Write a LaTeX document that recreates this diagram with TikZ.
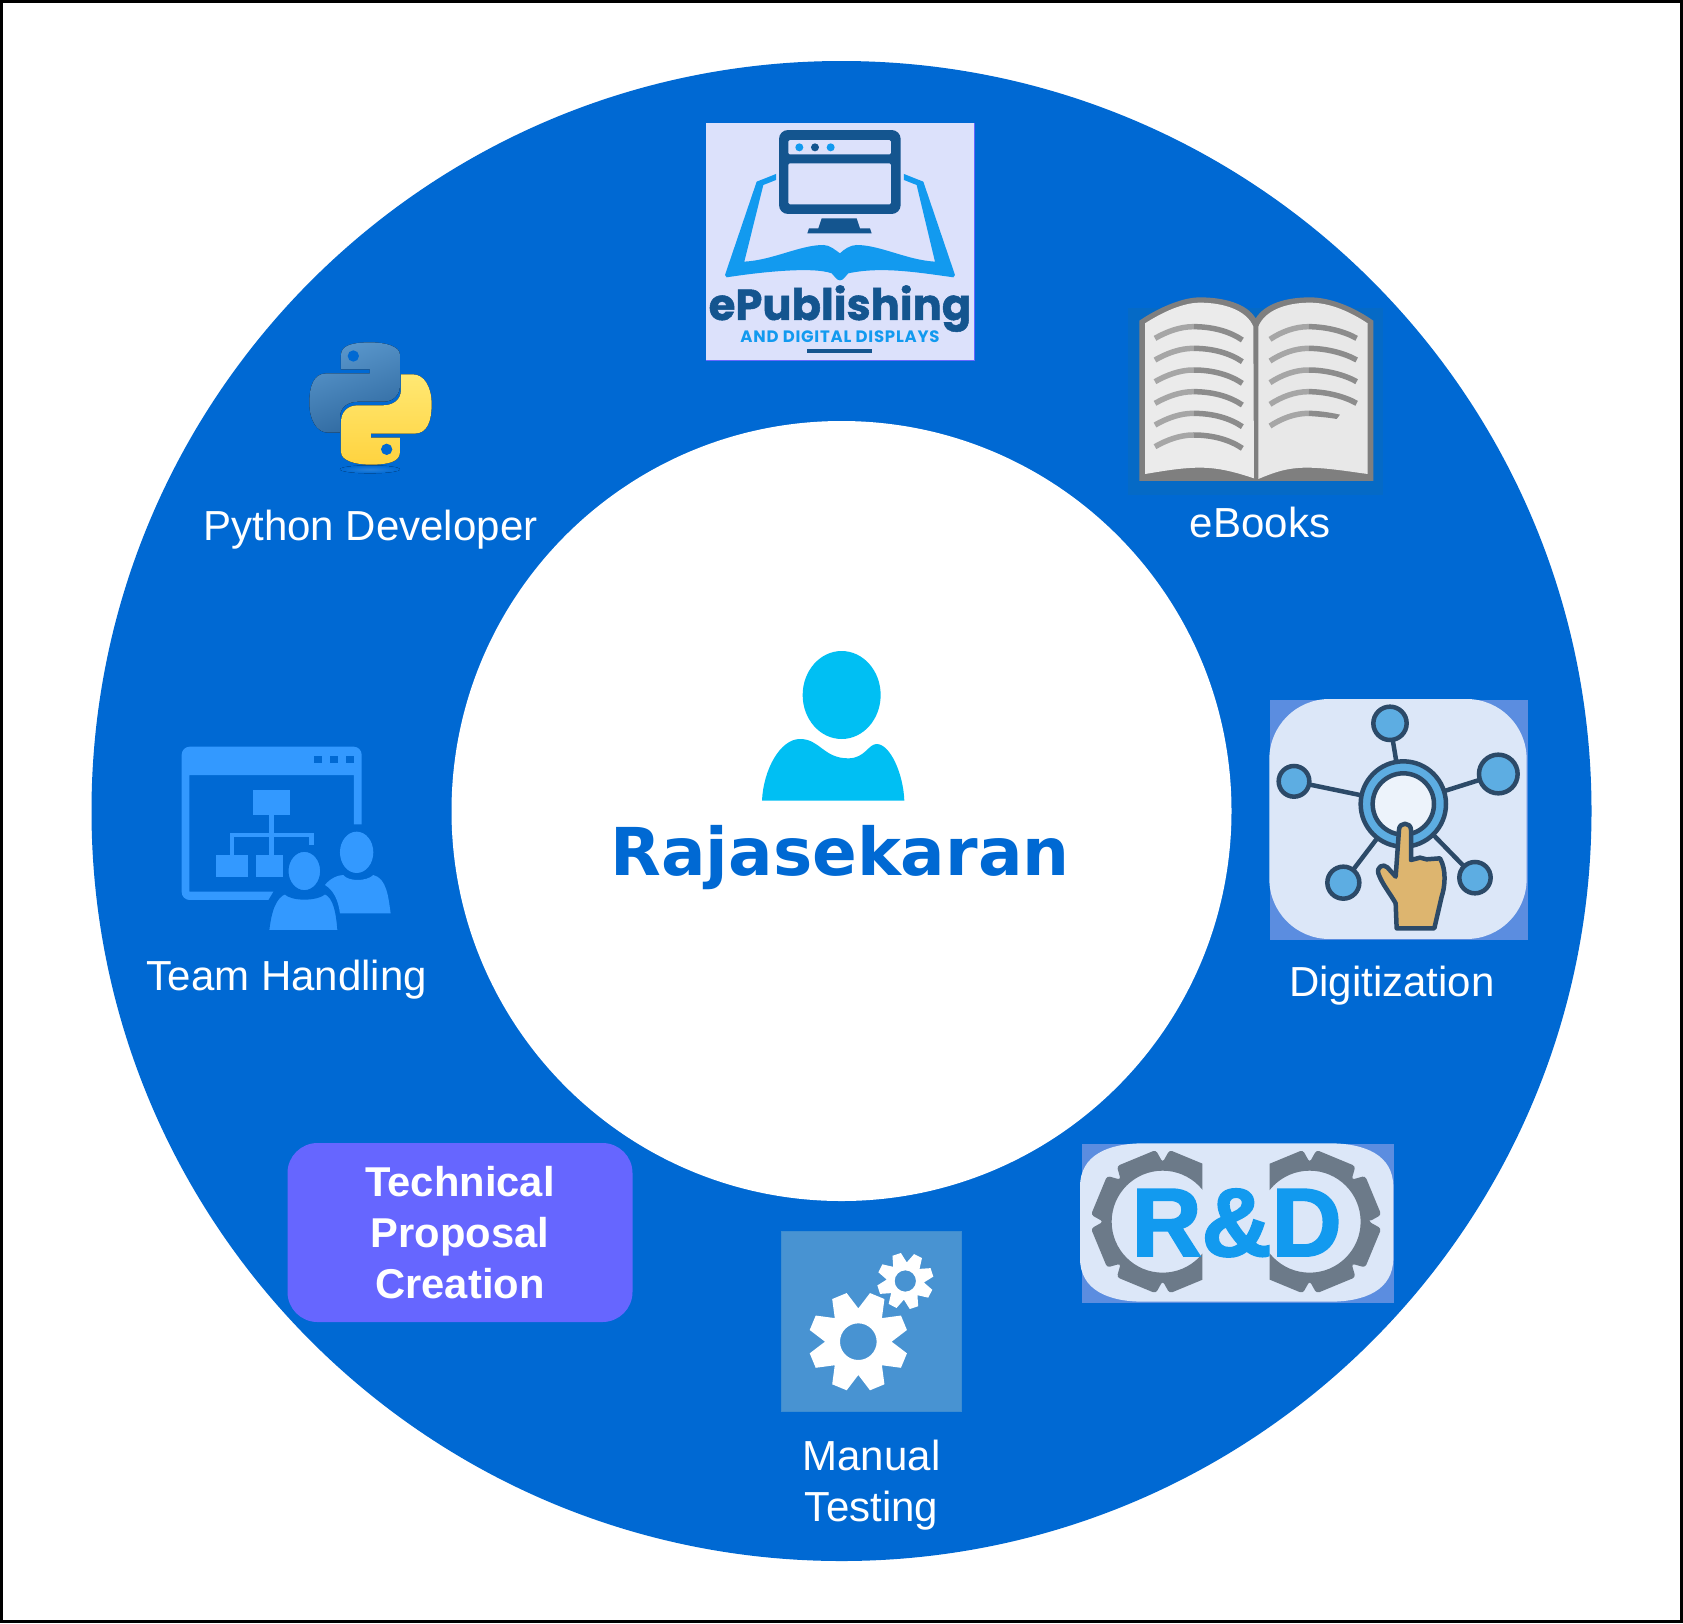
\documentclass[tikz,border=0pt]{standalone}
\usepackage{fontspec}
\setmainfont{Liberation Sans}
\newfontfamily\titlefont{DejaVu Sans}
\newfontfamily\logofont[BoldFeatures={FakeBold=1.2}]{Poppins}
\newfontfamily\logosubfont[LetterSpace=4.6]{Poppins}
\newfontfamily\markfont[BoldFeatures={FakeBold=2}]{Liberation Sans}
\definecolor{ringblue}{HTML}{0069D3}
\definecolor{haloblue}{HTML}{056AC6}
\definecolor{personblue}{HTML}{00BFF3}
\definecolor{proposalviolet}{HTML}{6666FF}
\definecolor{palebox}{HTML}{DCE1FB}
\definecolor{monitorblue}{HTML}{14558F}
\definecolor{skyblue}{HTML}{129AEF}
\definecolor{bookgrey}{HTML}{7F7F7F}
\definecolor{teamblue}{HTML}{3399FF}
\definecolor{tileblue}{HTML}{5B8DE0}
\definecolor{paletile}{HTML}{DCE7F8}
\definecolor{linkdark}{HTML}{2C4A68}
\definecolor{nodeblue}{HTML}{5DADE2}
\definecolor{handtan}{HTML}{DDB56F}
\definecolor{geargrey}{HTML}{6C7A89}
\definecolor{gearblue}{HTML}{4893D2}
\definecolor{snakelight}{HTML}{5A97CC}
\definecolor{snakedark}{HTML}{2E689F}
\definecolor{yellowlight}{HTML}{FFE873}
\definecolor{yellowdark}{HTML}{FFD33F}
% centre x, centre y, tip, root, hole, tip half width, rotation
\newcommand{\gearpath}[7]{%
    ([shift={(#1,#2)}]#7:#4)
    \foreach \k in {0,...,7} {
        -- ([shift={(#1,#2)}]#7+45*\k:#4)
        -- ([shift={(#1,#2)}]#7+45*\k+22.5-#6:#3)
        -- ([shift={(#1,#2)}]#7+45*\k+22.5+#6:#3)
    } -- cycle
    (#1,#2) circle[radius=#5]
}
\begin{document}
\begin{tikzpicture}
    [
        x=1pt, y=-1pt,
        zoomed/.style = {shift={(#1)}, x=0.3333pt, y=-0.3333pt},
        itemlabel/.style = {text=white, align=center, inner sep=0pt,
            font=\fontsize{42}{51}\selectfont}
    ]
    \useasboundingbox (0,0) rectangle (1683,1623);
    \fill[white] (0,0) rectangle (1683,1623);
    \draw[line width=3pt] (1.5,1.5) rectangle (1681.5,1621.5);
    \fill[ringblue] (841.5,811) circle[radius=750];
    \fill[white] (841.5,811) circle[radius=390];

    % centre
    \begin{scope}[zoomed={740,640}, personblue]
        \fill (305,165) ellipse[x radius=117, y radius=132];
        \fill (66,482) .. controls (70,390) and (120,297) .. (180,297)
            .. controls (240,297) and (250,355) .. (325,355)
            .. controls (375,355) and (385,312) .. (410,312)
            .. controls (450,312) and (490,400) .. (493,482) -- cycle;
    \end{scope}
    \node[text=ringblue, inner sep=0pt, font=\titlefont\bfseries\fontsize{66}{70}\selectfont]
        (centrename) at (840,858) {Rajasekaran};

    % ePublishing
    \begin{scope}[zoomed={680,100}]
        \fill[palebox] (78,68) rectangle (883,780);
        \draw[proposalviolet, line width=1.2pt] (884,68) -- (884,781) -- (78,781);
        \fill[monitorblue, rounded corners=9pt] (297,90) rectangle (662,342);
        \fill[palebox, rounded corners=1.5pt] (325,120) rectangle (633,163);
        \fill[palebox, rounded corners=1.5pt] (325,190) rectangle (633,313);
        \fill[skyblue] (358,142) circle[radius=12] (452,142) circle[radius=12];
        \fill[monitorblue] (405,142) circle[radius=12];
        \fill[monitorblue] (425,355) -- (530,355) -- (540,385) -- (570,385)
            -- (575,400) -- (382,400) -- (387,385) -- (415,385) -- cycle;
        \fill[skyblue] (288,222) -- (230,245) -- (135,525) -- (140,532)
            .. controls (250,515) and (400,500) .. (455,520)
            .. controls (465,530) and (470,541) .. (480,541)
            .. controls (490,541) and (495,530) .. (505,520)
            .. controls (600,500) and (700,515) .. (820,532)
            -- (825,525) -- (730,245) -- (672,222) -- (672,240) -- (710,255) -- (765,485)
            .. controls (680,480) and (600,435) .. (530,435)
            .. controls (510,435) and (490,450) .. (480,460)
            .. controls (465,450) and (450,435) .. (430,435)
            .. controls (360,435) and (280,480) .. (193,485)
            -- (250,255) -- (288,240) -- cycle;
        \node[anchor=base, inner sep=0pt, text=monitorblue, font=\logofont\bfseries\fontsize{43.3}{46}\selectfont]
            (publishtitle) at (480,660) {ePublishing};
        \node[anchor=base, inner sep=0pt, text=skyblue, font=\logosubfont\bfseries\fontsize{16.5}{19}\selectfont]
            (publishsub) at (480,727) {AND DIGITAL DISPLAYS};
        \fill[monitorblue] (382,748) rectangle (575,760);
    \end{scope}

    % eBooks
    \begin{scope}[zoomed={1110,280}]
        \fill[haloblue] (55,85) rectangle (820,645);
        \fill[bookgrey] (88,122) .. controls (150,80) and (220,52) .. (270,52)
            .. controls (340,52) and (410,70) .. (437,115)
            .. controls (465,70) and (530,52) .. (600,52)
            .. controls (660,52) and (730,80) .. (790,122)
            -- (790,603) -- (88,603) -- cycle;
        \fill[black!8] (105,130) .. controls (160,95) and (220,68) .. (270,68)
            .. controls (340,68) and (410,90) .. (430,140) -- (432,595)
            .. controls (380,578) and (330,563) .. (270,563)
            .. controls (210,563) and (150,575) .. (105,582) -- cycle;
        \fill[black!9] (445,140) .. controls (465,90) and (530,68) .. (600,68)
            .. controls (660,68) and (720,95) .. (773,130) -- (773,582)
            .. controls (720,575) and (650,563) .. (590,563)
            .. controls (530,563) and (490,578) .. (445,597) -- cycle;
        \foreach \dy in {0,65,130,195,260,325} {
            \draw[black!35, line width=5.5pt] (135,{175+\dy}) .. controls (170,{155+\dy}) and (210,{140+\dy}) .. (250,{140+\dy});
            \draw[black!45, line width=5.5pt] (250,{140+\dy}) .. controls (310,{140+\dy}) and (360,{155+\dy}) .. (397,{180+\dy});
        }
        \foreach \dy in {0,65,130,195} {
            \draw[black!35, line width=5.5pt] (480,{178+\dy}) .. controls (515,{155+\dy}) and (555,{140+\dy}) .. (595,{140+\dy});
            \draw[black!45, line width=5.5pt] (595,{140+\dy}) .. controls (650,{140+\dy}) and (705,{155+\dy}) .. (740,{175+\dy});
        }
        \draw[black!35, line width=5.5pt] (480,438) .. controls (515,415) and (555,400) .. (595,400);
        \fill[black!45] (595,392) .. controls (625,392) and (660,397) .. (690,404) -- (680,417) .. controls (650,412) and (625,410) .. (595,408) -- cycle;
    \end{scope}

    % digitization
    \begin{scope}[zoomed={1250,680}]
        \fill[tileblue] (60,60) rectangle (835,780);
        \fill[paletile, rounded corners=60pt] (58,57) rectangle (830,777);
        \foreach \cx/\cy/\rad in {420/130/50, 745/282/58, 132/304/46, 280/608/48, 675/593/47} {
            \draw[linkdark, line width=4.5pt] (460,372) -- (\cx,\cy);
            \draw[linkdark, line width=4.5pt, fill=nodeblue] (\cx,\cy) circle[radius=\rad];
        }
        \draw[linkdark, line width=4.5pt, fill=nodeblue] (460,372) circle[radius=128];
        \draw[linkdark, line width=4.5pt, fill=paletile!50!white] (460,372) circle[radius=92];
        \draw[linkdark, line width=4.5pt, fill=handtan, line join=round]
            (447,450) .. controls (447,425) and (483,425) .. (483,450)
            -- (483,540) -- (510,533) -- (530,538) -- (570,535)
            .. controls (590,570) and (585,620) .. (575,650)
            -- (553,745) -- (440,745) -- (437,670)
            .. controls (420,640) and (395,610) .. (385,580)
            .. controls (380,560) and (400,550) .. (412,562)
            -- (437,590) -- cycle;
    \end{scope}

    % research and development
    \begin{scope}[zoomed={1060,1130}]
        \fill[tileblue] (65,43) rectangle (1003,518);
        \fill[paletile] (250,40) -- (810,40) .. controls (915,40) and (1000,75) .. (1000,170)
            -- (1000,385) .. controls (1000,480) and (915,515) .. (810,515)
            -- (250,515) .. controls (145,515) and (60,480) .. (60,385)
            -- (60,170) .. controls (60,75) and (145,40) .. (250,40) -- cycle;
        \begin{scope}
            \clip (60,40) rectangle (427,515);
            \fill[geargrey, even odd rule, rounded corners=3pt] \gearpath{308}{275}{216}{178}{153}{17}{0};
        \end{scope}
        \begin{scope}
            \clip (629,40) rectangle (1000,515);
            \fill[geargrey, even odd rule, rounded corners=3pt] \gearpath{749}{275}{216}{178}{153}{17}{0};
        \end{scope}
        \node[anchor=base, inner sep=0pt, text=skyblue, font=\markfont\bfseries\fontsize{97}{100}\selectfont]
            (researchmark) at (530,378) {R\&D};
    \end{scope}

    % manual testing
    \begin{scope}[zoomed={770,1220}]
        \draw[gearblue!85!ringblue, fill=gearblue, line width=0.8pt] (33,33) rectangle (575,575);
        \fill[white, even odd rule] \gearpath{265}{365}{150}{100}{55}{9}{0};
        \fill[white, even odd rule] \gearpath{406}{183}{85}{56}{32}{9}{4.5};
    \end{scope}

    % team handling
    \begin{scope}[zoomed={170,730}, teamblue]
        \fill (552,283) -- (575,283) [rounded corners=8pt] -- (575,50) -- (35,50) -- (35,510)
            [sharp corners] -- (295,510) -- (310,485) -- (58,485) -- (58,135) -- (552,135) -- cycle;
        \foreach \bx in {432,480,528} {
            \fill[ringblue] (\bx,78) rectangle ++(23,22);
        }
        \fill (250,180) rectangle (360,255);
        \fill (138,375) rectangle (233,442);
        \fill (257,375) rectangle (340,442);
        \fill (297,255) rectangle (312,375);
        \fill (180,308) rectangle (432,322);
        \fill (180,308) rectangle (193,375);
        \fill (418,308) rectangle (432,345);
        \fill (560,367) ellipse[x radius=50, y radius=62];
        \fill (465,465) .. controls (480,445) and (505,435) .. (520,435)
            .. controls (535,455) and (590,455) .. (610,435)
            .. controls (650,445) and (655,500) .. (662,550) -- (510,550)
            .. controls (505,510) and (490,480) .. (465,465) -- cycle;
        \draw[ringblue, fill=teamblue, line width=3pt] (403,423) ellipse[x radius=52, y radius=62];
        \draw[ringblue, fill=teamblue, line width=3pt] (293,605) .. controls (300,540) and (315,500) .. (345,488)
            .. controls (365,510) and (440,510) .. (465,488)
            .. controls (495,500) and (503,550) .. (507,605) -- cycle;
    \end{scope}

    % python
    \begin{scope}[zoomed={290,330}]
        \fill[inner color=ringblue!85!white, outer color=ringblue] (240,418) ellipse[x radius=90, y radius=12];
        \fill[left color=snakelight, right color=snakedark, shading angle=20]
            (240,37) .. controls (190,37) and (153,45) .. (153,75) -- (153,118)
            -- (240,118) -- (240,130) -- (110,130)
            .. controls (70,130) and (58,170) .. (58,218)
            .. controls (58,270) and (80,308) .. (115,308) -- (150,308) -- (150,262)
            .. controls (150,230) and (175,215) .. (205,215) -- (280,215)
            .. controls (310,215) and (330,195) .. (330,165) -- (330,75)
            .. controls (330,50) and (290,37) .. (240,37) -- cycle;
        \fill[top color=yellowlight, bottom color=yellowdark]
            (243,404) .. controls (293,404) and (330,396) .. (330,366) -- (330,323)
            -- (243,323) -- (243,311) -- (373,311)
            .. controls (413,311) and (425,271) .. (425,223)
            .. controls (425,171) and (403,133) .. (368,133) -- (333,133) -- (333,179)
            .. controls (333,211) and (308,226) .. (278,226) -- (203,226)
            .. controls (173,226) and (153,246) .. (153,276) -- (153,366)
            .. controls (153,391) and (193,404) .. (243,404) -- cycle;
        \fill[ringblue] (190,78) circle[radius=17] (290,358) circle[radius=17];
    \end{scope}

    % labels
    \node[itemlabel] (pythonlabel) at (370.5,530) {Python Developer};
    \node[itemlabel] (ebookslabel) at (1260,522) {eBooks};
    \node[itemlabel] (digitizelabel) at (1392,986) {Digitization};
    \node[itemlabel] (teamlabel) at (287,980) {Team Handling};
    \node[itemlabel] (testinglabel) at (871.5,1485) {Manual\\Testing};
    \node[itemlabel, font=\bfseries\fontsize{41.7}{51}\selectfont, fill=proposalviolet, rounded corners=30pt,
        minimum width=345pt, minimum height=179pt, text depth=0pt]
        (proposalbox) at (460,1232.5) {Technical\\Proposal\\Creation};
\end{tikzpicture}
\end{document}
